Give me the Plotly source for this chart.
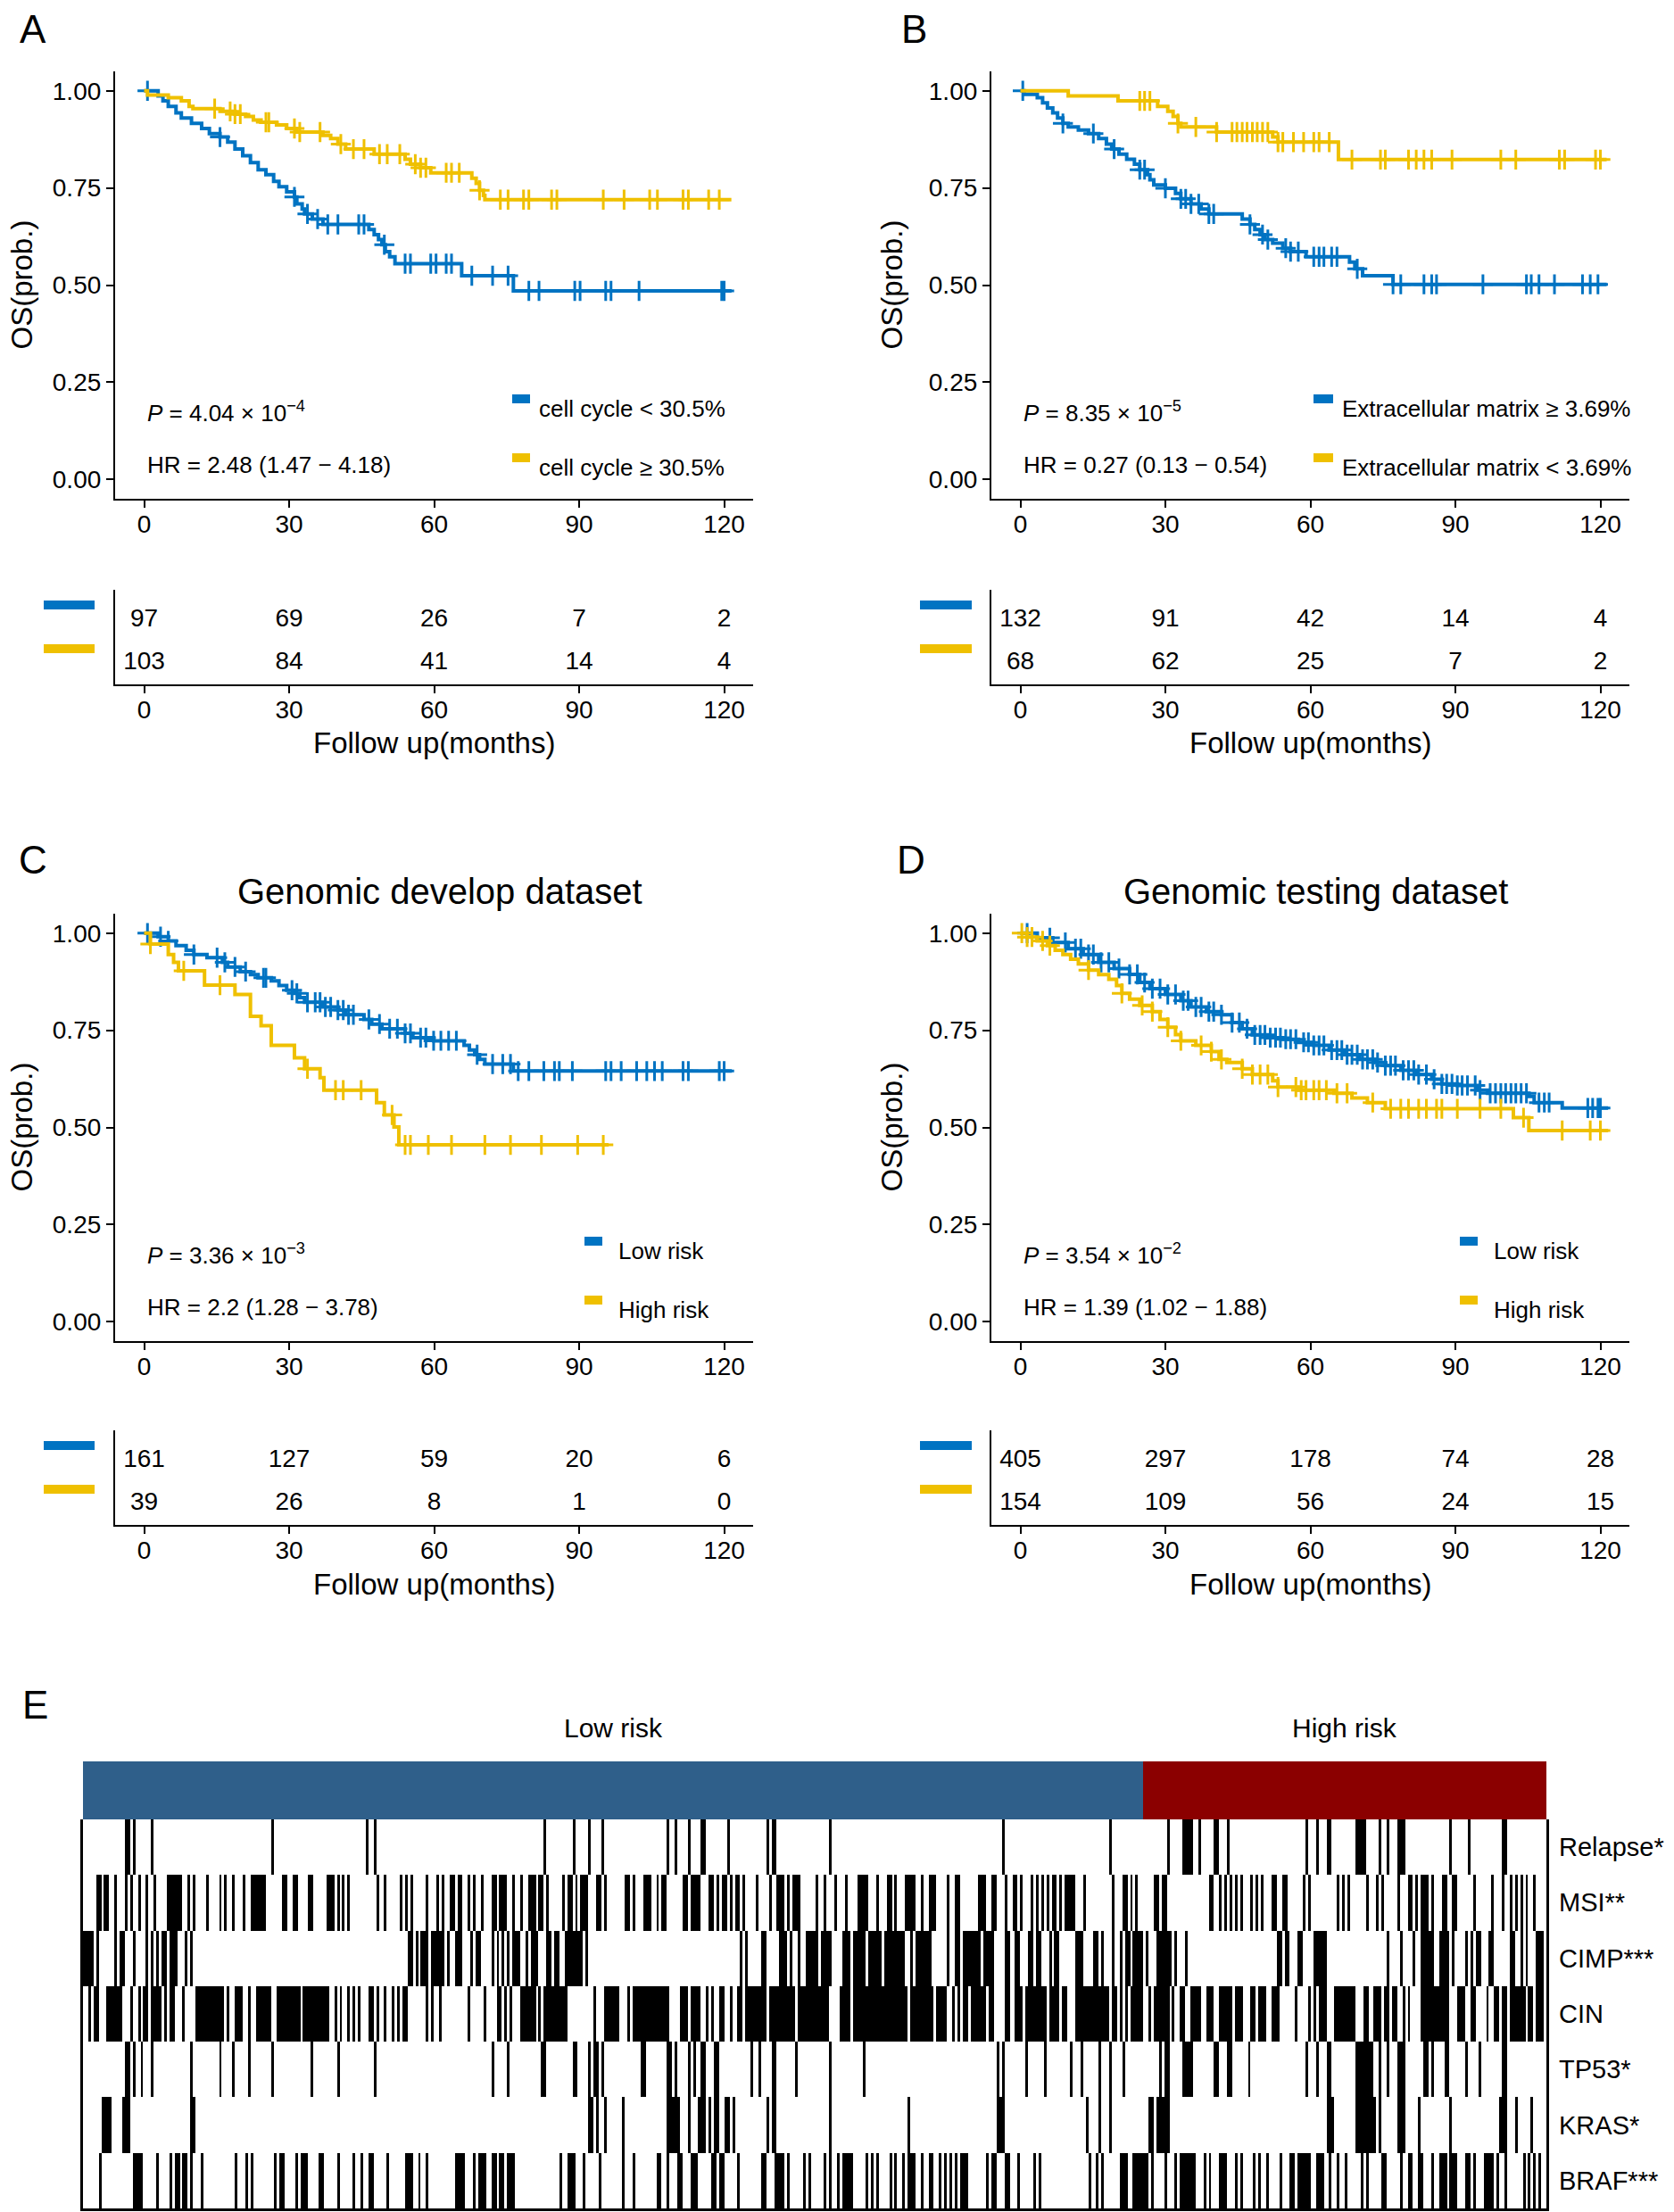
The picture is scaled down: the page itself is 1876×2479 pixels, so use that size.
import bisect
import plotly.graph_objects as go

W, H = 1876, 2479          # reference picture size
OFF = 8                    # page body margin of the browser
WF, HF = W - OFF, H - OFF  # figure size
BLUE = '#0073C2'
YELLOW = '#EFC000'
GROUP_BLUE = '#2F5F8A'
GROUP_RED = '#8B0000'
FONT = 'Liberation Sans, Arial, Helvetica, sans-serif'

TIME_TICKS = [0, 30, 60, 90, 120]
SURV_TICKS = [0, 0.25, 0.5, 0.75, 1.0]
SURV_LABELS = ['0.00', '0.25', '0.50', '0.75', '1.00']

# ---------------- Panel A ----------------
A_blue_t = [2.9, 3.9, 5.0, 6.6, 7.7, 9.8, 11.9, 13.5, 15.7, 17.3, 18.8, 20.4, 22.0, 23.6, 25.2, 26.8, 27.9, 29.5,
            31.1, 31.6, 32.7, 33.2, 34.8, 37.0, 46.5, 47.6, 48.5, 49.2, 49.9, 50.8, 51.9, 65.7, 76.4]
A_blue_s = [0.987, 0.974, 0.960, 0.943, 0.930, 0.916, 0.903, 0.890, 0.881, 0.868, 0.850, 0.833, 0.815, 0.797, 0.784,
            0.767, 0.753, 0.740, 0.727, 0.709, 0.696, 0.683, 0.670, 0.656, 0.643, 0.630, 0.617, 0.604, 0.586, 0.573,
            0.555, 0.524, 0.485]
A_blue_cens = [0.7, 15.7, 31.1, 33.8, 35.9, 38.0, 40.1, 44.4, 45.5, 49.7, 54.0, 55.1, 59.3, 60.4, 62.5, 63.6, 67.8,
               72.1, 75.3, 79.6, 81.7, 89.1, 90.2, 95.5, 96.6, 102.4, 119.5, 120.0]
A_blue_end = 121.5
A_yel_t = [0.7, 5.0, 7.7, 9.3, 10.1, 15.7, 18.8, 21.0, 22.6, 24.2, 27.4, 29.5, 31.6, 37.0, 38.6, 40.1, 41.7, 47.6,
           54.0, 55.1, 57.2, 59.3, 67.8, 68.7, 69.4, 70.2, 70.5]
A_yel_s = [0.989, 0.982, 0.974, 0.960, 0.954, 0.947, 0.940, 0.934, 0.925, 0.919, 0.912, 0.903, 0.894, 0.885, 0.877,
           0.863, 0.850, 0.837, 0.824, 0.811, 0.802, 0.789, 0.775, 0.762, 0.744, 0.731, 0.720]
A_yel_cens = [14.6, 17.8, 18.8, 19.9, 25.2, 25.8, 31.1, 32.2, 36.4, 40.7, 43.3, 45.5, 48.7, 50.3, 52.9, 56.1, 57.2,
              58.3, 62.5, 63.6, 65.2, 69.4, 73.7, 75.3, 78.5, 79.6, 84.3, 85.4, 95.0, 99.3, 104.6, 106.2, 111.5,
              112.6, 116.8, 119.0]
A_yel_end = 121.5
A_risk_blue = [97, 69, 26, 7, 2]
A_risk_yel = [103, 84, 41, 14, 4]
A_legend = ['cell cycle < 30.5%', 'cell cycle \u2265 30.5%']
A_p = '<i>P</i> = 4.04 \u00d7 10<sup>\u22124</sup>'
A_hr = 'HR = 2.48 (1.47 \u2212 4.18)'

# ---------------- Panel B ----------------
B_blue_t = [0.8, 3.5, 4.6, 5.6, 6.7, 7.7, 8.8, 9.9, 12.0, 14.1, 16.2, 17.8, 18.9, 20.4, 22.0, 23.6, 24.7, 26.3, 26.8,
            27.6, 30.0, 32.1, 33.2, 35.3, 37.4, 39.0, 45.9, 47.5, 48.5, 49.6, 50.6, 52.2, 54.3, 55.9, 59.1, 68.1,
            69.2, 70.8, 77.1]
B_blue_s = [0.991, 0.982, 0.969, 0.956, 0.943, 0.930, 0.916, 0.907, 0.899, 0.890, 0.877, 0.863, 0.850, 0.837, 0.824,
            0.811, 0.797, 0.784, 0.771, 0.758, 0.749, 0.736, 0.722, 0.709, 0.696, 0.683, 0.670, 0.656, 0.643, 0.630,
            0.617, 0.608, 0.595, 0.586, 0.573, 0.559, 0.542, 0.524, 0.502]
B_blue_cens = [0.5, 8.8, 15.1, 19.4, 24.7, 25.7, 30.0, 33.2, 34.2, 35.3, 36.9, 39.0, 40.0, 47.5, 50.1, 51.2, 54.9,
               55.9, 57.5, 60.7, 61.8, 62.8, 64.4, 65.5, 69.7, 77.1, 78.7, 83.5, 85.1, 86.1, 95.7, 104.7, 105.7,
               107.3, 110.5, 116.3, 117.9, 119.5]
B_blue_end = 121.3
B_yel_t = [9.9, 20.2, 28.4, 30.5, 31.6, 32.6, 33.2, 40.6, 52.2, 53.3, 65.8]
B_yel_s = [0.987, 0.974, 0.960, 0.947, 0.934, 0.916, 0.907, 0.894, 0.881, 0.868, 0.823]
B_yel_cens = [24.7, 25.7, 26.8, 32.6, 36.3, 40.6, 43.8, 44.8, 45.9, 46.9, 48.0, 49.0, 50.1, 51.2, 53.3, 54.3, 56.5,
              58.6, 60.7, 61.8, 63.9, 68.6, 74.5, 75.5, 80.3, 81.9, 83.5, 85.1, 89.3, 99.4, 102.5, 111.5, 112.6,
              119.0, 120.0]
B_yel_end = 121.3
B_risk_blue = [132, 91, 42, 14, 4]
B_risk_yel = [68, 62, 25, 7, 2]
B_legend = ['Extracellular matrix \u2265 3.69%', 'Extracellular matrix < 3.69%']
B_p = '<i>P</i> = 8.35 \u00d7 10<sup>\u22125</sup>'
B_hr = 'HR = 0.27 (0.13 \u2212 0.54)'

# ---------------- Panel C ----------------
C_blue_t = [2.9, 5.0, 6.6, 8.7, 10.3, 13.0, 16.2, 17.3, 19.9, 22.0, 23.6, 26.3, 27.9, 29.5, 31.1, 32.2, 33.2, 37.0,
            40.1, 41.7, 45.5, 47.1, 49.2, 54.0, 55.6, 59.9, 66.2, 67.3, 68.4, 69.4, 70.5, 76.4]
C_blue_s = [0.991, 0.980, 0.968, 0.956, 0.945, 0.937, 0.925, 0.913, 0.901, 0.893, 0.885, 0.877, 0.865, 0.853, 0.845,
            0.834, 0.822, 0.810, 0.802, 0.790, 0.778, 0.766, 0.754, 0.742, 0.731, 0.723, 0.711, 0.699, 0.687, 0.675,
            0.663, 0.645]
C_blue_cens = [0.7, 3.4, 5.0, 10.3, 15.1, 16.7, 18.8, 21.0, 24.7, 25.2, 30.6, 31.6, 33.8, 35.4, 36.4, 37.5, 38.6,
               40.1, 41.2, 42.3, 43.3, 46.5, 48.7, 50.8, 52.4, 54.0, 55.1, 57.2, 58.3, 59.9, 61.4, 63.0, 64.6, 68.9,
               72.1, 74.2, 75.8, 77.4, 79.6, 82.7, 84.9, 85.9, 88.6, 95.5, 96.6, 98.7, 101.9, 104.0, 105.6, 107.2,
               111.5, 112.6, 119.0, 120.0]
C_blue_end = 121.6
C_yel_t = [1.3, 5.0, 6.1, 7.1, 12.5, 18.8, 22.0, 24.2, 26.3, 31.1, 33.2, 36.4, 37.2, 48.1, 49.7, 51.7, 52.7]
C_yel_s = [0.972, 0.945, 0.925, 0.903, 0.866, 0.842, 0.786, 0.762, 0.711, 0.679, 0.651, 0.628, 0.596, 0.564, 0.532,
           0.501, 0.455]
C_yel_cens = [1.3, 8.2, 15.7, 33.8, 39.6, 41.2, 44.9, 51.3, 54.0, 55.1, 58.8, 63.6, 70.5, 75.8, 82.2, 89.7, 95.0]
C_yel_end = 96.1
C_risk_blue = [161, 127, 59, 20, 6]
C_risk_yel = [39, 26, 8, 1, 0]
C_legend = ['Low risk', 'High risk']
C_p = '<i>P</i> = 3.36 \u00d7 10<sup>\u22123</sup>'
C_hr = 'HR = 2.2 (1.28 \u2212 3.78)'
C_title = 'Genomic develop dataset'

# ---------------- Panel D ----------------
D_blue_t = [3.5, 6.7, 9.9, 13.0, 16.2, 19.4, 22.6, 24.7, 26.8, 30.0, 33.2, 35.3, 38.5, 41.6, 43.8, 45.9, 48.0, 51.2,
            54.3, 57.5, 60.7, 63.9, 67.1, 70.2, 73.4, 75.5, 78.7, 81.9, 85.1, 87.2, 90.4, 94.6, 96.7, 105.2, 106.3,
            112.1]
D_blue_s = [0.988, 0.976, 0.960, 0.945, 0.925, 0.909, 0.894, 0.873, 0.857, 0.842, 0.826, 0.810, 0.798, 0.790, 0.770,
            0.754, 0.738, 0.731, 0.727, 0.719, 0.711, 0.699, 0.687, 0.675, 0.667, 0.659, 0.647, 0.636, 0.624, 0.612,
            0.608, 0.596, 0.588, 0.580, 0.564, 0.550]
D_blue_cens = [1.4, 6.1, 9.3, 11.4, 12.5, 14.1, 15.1, 16.7, 18.3, 20.4, 22.6, 24.2, 25.7, 27.3, 28.9, 30.5, 32.1,
               33.7, 34.7, 36.3, 37.4, 39.0, 40.0, 41.6, 43.8, 45.3, 46.9, 48.5, 49.6, 50.6, 51.7, 52.8, 53.8, 54.9,
               55.9, 57.0, 58.6, 59.6, 60.7, 61.8, 62.8, 64.4, 65.5, 66.5, 67.6, 68.6, 69.7, 70.8, 71.8, 72.9, 73.9,
               75.5, 76.6, 77.6, 79.2, 80.3, 81.4, 82.4, 84.0, 85.6, 87.2, 88.2, 89.3, 90.4, 91.4, 92.5, 94.1, 95.1,
               97.2, 98.3, 99.4, 100.4, 101.5, 102.5, 103.6, 104.7, 107.3, 108.4, 109.4, 117.4, 118.4, 119.5, 120.0]
D_blue_end = 121.6
D_yel_t = [1.4, 3.5, 5.6, 7.2, 8.8, 10.4, 12.0, 14.1, 16.2, 18.3, 19.9, 21.0, 22.6, 24.7, 27.3, 28.9, 30.5, 32.1,
           33.2, 36.3, 39.5, 41.1, 42.7, 45.9, 48.0, 52.2, 53.3, 57.5, 64.9, 68.6, 71.8, 75.5, 102.0, 105.2]
D_yel_s = [0.990, 0.980, 0.968, 0.956, 0.945, 0.933, 0.921, 0.905, 0.893, 0.881, 0.865, 0.845, 0.830, 0.814, 0.798,
           0.778, 0.758, 0.739, 0.723, 0.711, 0.695, 0.675, 0.667, 0.651, 0.636, 0.620, 0.604, 0.596, 0.588, 0.576,
           0.564, 0.548, 0.525, 0.492]
D_yel_cens = [0.3, 1.4, 2.4, 4.6, 6.1, 14.1, 21.0, 25.2, 27.3, 30.5, 33.2, 37.4, 39.5, 41.6, 45.9, 48.0, 49.6, 51.2,
              53.3, 57.0, 58.1, 59.1, 60.7, 61.8, 63.3, 65.5, 67.6, 72.9, 76.6, 78.7, 80.3, 82.4, 84.0, 86.1, 87.2,
              90.4, 95.1, 99.4, 104.1, 112.1, 117.9, 120.0]
D_yel_end = 121.6
D_risk_blue = [405, 297, 178, 74, 28]
D_risk_yel = [154, 109, 56, 24, 15]
D_legend = ['Low risk', 'High risk']
D_p = '<i>P</i> = 3.54 \u00d7 10<sup>\u22122</sup>'
D_hr = 'HR = 1.39 (1.02 \u2212 1.88)'
D_title = 'Genomic testing dataset'

# ---------------- Panel E (binary heatmap, column index ranges of black cells) ----------------
N_LOW = 405
N_HIGH = 154
E_groups = ['Low risk', 'High risk']
E_rows = ['Relapse*', 'MSI**', 'CIMP***', 'CIN', 'TP53*', 'KRAS*', 'BRAF***']
RELAPSE = [[16, 17], [19, 19], [26, 26], [72, 72], [108, 108], [111, 111], [176, 176], [187, 187], [193, 193],
           [198, 198], [223, 223], [226, 226], [231, 231], [236, 237], [246, 246], [261, 261], [263, 264], [285, 285],
           [351, 351], [392, 392], [414, 414], [420, 423], [426, 426], [432, 433], [437, 437], [467, 467], [471, 471],
           [475, 476], [486, 489], [495, 495], [498, 498], [502, 504], [522, 522], [529, 529], [542, 543]]
MSI = [[5, 6], [8, 9], [12, 12], [16, 16], [18, 18], [21, 21], [24, 24], [27, 27], [32, 37], [40, 40], [42, 42],
       [47, 47], [52, 52], [54, 54], [57, 57], [61, 61], [64, 69], [76, 77], [80, 81], [86, 87], [93, 95], [97, 97],
       [99, 99], [101, 101], [112, 112], [115, 115], [121, 121], [123, 123], [125, 125], [131, 131], [135, 135],
       [137, 137], [140, 141], [143, 144], [147, 147], [149, 149], [152, 152], [156, 157], [159, 161], [164, 164],
       [167, 167], [170, 172], [174, 175], [177, 177], [183, 183], [185, 186], [188, 188], [190, 192], [196, 197],
       [199, 199], [207, 208], [210, 210], [214, 216], [219, 219], [221, 222], [229, 230], [232, 235], [239, 240],
       [242, 242], [244, 245], [247, 247], [249, 250], [252, 252], [257, 257], [262, 262], [265, 267], [269, 269],
       [271, 273], [280, 280], [283, 283], [287, 287], [291, 291], [296, 299], [303, 303], [307, 308], [310, 310],
       [314, 317], [320, 320], [323, 325], [330, 330], [333, 334], [342, 344], [347, 348], [352, 352], [355, 356],
       [358, 358], [362, 362], [364, 364], [366, 366], [368, 368], [370, 371], [373, 373], [375, 378], [382, 382],
       [393, 393], [397, 398], [400, 400], [402, 402], [409, 410], [412, 413], [430, 431], [434, 434], [436, 436],
       [438, 438], [440, 440], [442, 442], [446, 446], [448, 448], [450, 450], [454, 455], [458, 459], [466, 466],
       [468, 468], [479, 479], [481, 481], [483, 483], [490, 490], [494, 494], [496, 496], [502, 502], [506, 507],
       [509, 509], [511, 513], [515, 515], [519, 520], [523, 524], [531, 531], [538, 538], [542, 542], [545, 545],
       [547, 547], [549, 549], [551, 551], [554, 554]]
CIMP = [[0, 3], [5, 5], [12, 12], [14, 15], [19, 19], [24, 24], [26, 26], [28, 28], [30, 31], [33, 35], [39, 39],
        [41, 41], [124, 125], [127, 127], [129, 131], [133, 137], [139, 139], [142, 144], [148, 148], [150, 151],
        [156, 156], [158, 158], [160, 160], [162, 162], [164, 166], [169, 169], [171, 173], [177, 178], [180, 181],
        [184, 190], [192, 192], [251, 251], [253, 253], [259, 260], [266, 268], [270, 270], [273, 273], [276, 280],
        [282, 285], [290, 292], [294, 298], [300, 304], [306, 313], [316, 316], [318, 323], [330, 330], [333, 334],
        [336, 342], [344, 347], [352, 353], [356, 357], [361, 362], [364, 365], [369, 369], [371, 372], [379, 381],
        [386, 387], [389, 389], [393, 393], [396, 396], [398, 399], [401, 404], [406, 406], [410, 415], [417, 417],
        [421, 421], [456, 457], [459, 460], [464, 465], [470, 474], [498, 498], [503, 503], [508, 508], [511, 515],
        [518, 521], [523, 523], [528, 528], [530, 530], [532, 533], [537, 538], [545, 546], [549, 549], [551, 551],
        [555, 557]]
CIN = [[2, 2], [4, 5], [9, 14], [18, 18], [21, 21], [23, 24], [26, 29], [31, 31], [33, 34], [38, 38], [43, 53],
       [55, 55], [58, 60], [63, 63], [66, 71], [74, 82], [84, 93], [96, 96], [98, 98], [101, 101], [103, 103],
       [105, 105], [109, 110], [112, 112], [115, 115], [118, 118], [120, 120], [122, 123], [131, 131], [133, 133],
       [136, 136], [147, 147], [153, 153], [158, 159], [161, 161], [163, 163], [167, 172], [174, 174], [176, 184],
       [195, 195], [199, 204], [208, 208], [210, 223], [228, 230], [232, 235], [238, 238], [240, 240], [243, 244],
       [247, 247], [250, 251], [253, 260], [262, 271], [273, 284], [289, 292], [294, 314], [316, 324], [326, 329],
       [332, 332], [334, 334], [336, 337], [339, 344], [346, 347], [352, 353], [356, 358], [360, 367], [369, 372],
       [374, 375], [379, 391], [393, 394], [396, 396], [398, 398], [400, 404], [407, 407], [409, 414], [416, 416],
       [419, 420], [423, 426], [429, 431], [434, 438], [440, 442], [446, 447], [449, 451], [454, 456], [463, 463],
       [468, 468], [470, 470], [472, 474], [478, 485], [489, 490], [493, 495], [497, 498], [500, 501], [504, 504],
       [506, 506], [511, 521], [525, 527], [530, 531], [536, 536], [539, 540], [542, 543], [545, 550], [552, 553],
       [555, 557]]
TP53 = [[16, 17], [19, 19], [22, 22], [26, 26], [41, 41], [52, 52], [57, 57], [63, 63], [72, 72], [87, 87], [97, 97],
        [111, 111], [156, 156], [162, 162], [175, 176], [187, 188], [193, 193], [195, 196], [198, 198], [213, 214],
        [223, 224], [226, 226], [231, 231], [233, 233], [236, 237], [241, 242], [255, 255], [258, 258], [263, 264],
        [272, 272], [285, 285], [298, 298], [349, 349], [351, 351], [360, 360], [367, 367], [377, 377], [381, 381],
        [388, 388], [392, 392], [397, 397], [411, 411], [413, 414], [420, 423], [432, 433], [437, 438], [445, 445],
        [467, 467], [471, 471], [475, 476], [486, 492], [495, 495], [498, 498], [502, 504], [512, 513], [515, 515],
        [520, 521], [528, 528], [533, 533], [542, 543]]
KRAS = [[7, 10], [15, 17], [41, 42], [193, 194], [196, 196], [199, 199], [206, 206], [223, 227], [231, 231],
        [235, 237], [239, 239], [241, 242], [245, 246], [248, 248], [261, 261], [263, 264], [285, 285], [315, 315],
        [349, 351], [383, 383], [388, 388], [392, 392], [407, 408], [410, 414], [475, 477], [486, 493], [495, 495],
        [502, 504], [510, 510], [522, 522], [541, 543], [547, 547], [553, 553]]
BRAF = [[6, 6], [19, 22], [28, 28], [33, 33], [35, 36], [38, 39], [41, 41], [45, 45], [58, 58], [62, 62], [64, 64],
        [73, 73], [75, 76], [81, 81], [83, 85], [90, 91], [97, 97], [103, 103], [106, 106], [109, 110], [116, 116],
        [123, 125], [128, 128], [131, 131], [142, 145], [149, 149], [151, 153], [156, 157], [159, 160], [162, 164],
        [182, 182], [185, 187], [191, 191], [197, 197], [206, 206], [210, 210], [219, 220], [223, 223], [227, 228],
        [232, 234], [240, 241], [243, 244], [250, 250], [259, 260], [264, 267], [269, 269], [275, 275], [277, 277],
        [283, 283], [285, 285], [288, 288], [290, 293], [299, 299], [301, 301], [303, 303], [308, 308], [310, 310],
        [313, 313], [315, 317], [320, 320], [323, 324], [327, 327], [329, 329], [331, 331], [333, 333], [335, 337],
        [345, 345], [347, 348], [352, 353], [357, 357], [363, 363], [365, 365], [384, 384], [387, 387], [389, 389],
        [396, 398], [401, 406], [408, 408], [413, 413], [417, 417], [419, 424], [428, 428], [430, 430], [434, 436],
        [440, 440], [442, 442], [447, 447], [449, 449], [452, 452], [457, 457], [461, 462], [464, 468], [471, 473],
        [476, 476], [479, 479], [482, 482], [488, 488], [490, 490], [496, 497], [503, 503], [506, 507], [510, 511],
        [515, 515], [518, 520], [522, 524], [528, 529], [531, 531], [535, 538], [540, 540], [543, 543], [550, 550],
        [552, 552], [554, 554], [556, 556]]
E_data = [RELAPSE, MSI, CIMP, CIN, TP53, KRAS, BRAF]


# ---------------- helpers (reference pixel -> paper fraction) ----------------
def fx(x):
    return (x - OFF) / WF


def fy(y):
    return 1 - (y - OFF) / HF


def surv_at(t_list, s_list, t):
    i = bisect.bisect_right(t_list, t)
    return 1.0 if i == 0 else s_list[i - 1]


fig = go.Figure()
layout = {}
annotations = []
shapes = []

axis_font = dict(family=FONT, size=28, color='black')
base_axis = dict(showline=True, linecolor='black', linewidth=2.2, showgrid=False, zeroline=False,
                 ticks='outside', ticklen=8, tickwidth=2, tickcolor='black', tickfont=axis_font)

panels = [
    dict(letter='A', letter_xy=(37, 32), km=1, tab=5, xpx=(129, 844), kmy=(80, 559), taby=(661, 767),
         blue=(A_blue_t, A_blue_s, A_blue_cens, A_blue_end), yel=(A_yel_t, A_yel_s, A_yel_cens, A_yel_end),
         risk=(A_risk_blue, A_risk_yel), legend=A_legend, p=A_p, hr=A_hr, title=None,
         leg_key_x=(574, 594), leg_text_x=602, ytitle_x=24, riskbar_x=(49, 106)),
    dict(letter='B', letter_xy=(1024, 32), km=2, tab=6, xpx=(1111, 1826), kmy=(80, 559), taby=(661, 767),
         blue=(B_blue_t, B_blue_s, B_blue_cens, B_blue_end), yel=(B_yel_t, B_yel_s, B_yel_cens, B_yel_end),
         risk=(B_risk_blue, B_risk_yel), legend=B_legend, p=B_p, hr=B_hr, title=None,
         leg_key_x=(1472, 1494), leg_text_x=1502, ytitle_x=999, riskbar_x=(1031, 1089)),
    dict(letter='C', letter_xy=(37, 963), km=3, tab=7, xpx=(129, 844), kmy=(1024, 1503), taby=(1603, 1709),
         blue=(C_blue_t, C_blue_s, C_blue_cens, C_blue_end), yel=(C_yel_t, C_yel_s, C_yel_cens, C_yel_end),
         risk=(C_risk_blue, C_risk_yel), legend=C_legend, p=C_p, hr=C_hr, title=C_title,
         leg_key_x=(655, 675), leg_text_x=691, ytitle_x=24, riskbar_x=(49, 106)),
    dict(letter='D', letter_xy=(1021, 963), km=4, tab=8, xpx=(1111, 1826), kmy=(1024, 1503), taby=(1603, 1709),
         blue=(D_blue_t, D_blue_s, D_blue_cens, D_blue_end), yel=(D_yel_t, D_yel_s, D_yel_cens, D_yel_end),
         risk=(D_risk_blue, D_risk_yel), legend=D_legend, p=D_p, hr=D_hr, title=D_title,
         leg_key_x=(1636, 1656), leg_text_x=1672, ytitle_x=999, riskbar_x=(1031, 1089)),
]

for P in panels:
    k, tb = P['km'], P['tab']
    x0, x1 = P['xpx']
    ky0, ky1 = P['kmy']
    ty0, ty1 = P['taby']
    xa, ya = 'x%d' % k, 'y%d' % k
    xt, yt = 'x%d' % tb, 'y%d' % tb

    layout['xaxis%d' % k] = dict(base_axis, domain=[fx(x0), fx(x1)], range=[-6, 126], anchor=ya,
                                 tickvals=TIME_TICKS, ticklabelstandoff=-6)
    layout['yaxis%d' % k] = dict(base_axis, domain=[fy(ky1), fy(ky0)], range=[-0.05, 1.05], anchor=xa,
                                 tickvals=SURV_TICKS, ticktext=SURV_LABELS)
    layout['xaxis%d' % tb] = dict(base_axis, domain=[fx(x0), fx(x1)], range=[-6, 126], anchor=yt,
                                  tickvals=TIME_TICKS, ticklabelstandoff=-6)
    layout['yaxis%d' % tb] = dict(showline=True, linecolor='black', linewidth=2.2, showgrid=False,
                                  zeroline=False, ticks='', showticklabels=False,
                                  domain=[fy(ty1), fy(ty0)], range=[0.5, 2.7], anchor=xt)

    for (t, s, cens, end), color in ((P['blue'], BLUE), (P['yel'], YELLOW)):
        fig.add_trace(go.Scatter(x=[0] + t + [end], y=[1.0] + s + [s[-1]], mode='lines',
                                 line=dict(color=color, width=4, shape='hv'),
                                 xaxis=xa, yaxis=ya, showlegend=False, hoverinfo='skip'))
        fig.add_trace(go.Scatter(x=cens, y=[surv_at(t, s, c) for c in cens], mode='markers',
                                 marker=dict(symbol='cross-thin', size=16, color=color,
                                             line=dict(color=color, width=3)),
                                 xaxis=xa, yaxis=ya, showlegend=False, hoverinfo='skip'))

    rb, ry = P['risk']
    for vals, row in ((rb, 2), (ry, 1)):
        fig.add_trace(go.Scatter(x=TIME_TICKS, y=[row] * len(vals), mode='text',
                                 text=[str(v) for v in vals], textfont=axis_font,
                                 xaxis=xt, yaxis=yt, showlegend=False, hoverinfo='skip', cliponaxis=False))

    # panel letter
    annotations.append(dict(text=P['letter'], x=fx(P['letter_xy'][0]), y=fy(P['letter_xy'][1]),
                            xref='paper', yref='paper', showarrow=False, xanchor='center', yanchor='middle',
                            font=dict(family=FONT, size=44, color='black')))
    # y title
    annotations.append(dict(text='OS(prob.)', x=fx(P['ytitle_x']), y=fy((ky0 + ky1) / 2), xref='paper',
                            yref='paper', showarrow=False, textangle=-90, xanchor='center', yanchor='middle',
                            font=dict(family=FONT, size=33, color='black')))
    # x title under risk table
    annotations.append(dict(text='Follow up(months)', x=60, xref=xt, y=fy(ty1 + 66), yref='paper',
                            showarrow=False, xanchor='center', yanchor='middle',
                            font=dict(family=FONT, size=33, color='black')))
    # P value and HR
    annotations.append(dict(text=P['p'], x=fx(x0 + 34), y=fy(ky0 + 381), xref='paper', yref='paper',
                            showarrow=False, xanchor='left', yanchor='middle',
                            font=dict(family=FONT, size=26, color='black')))
    annotations.append(dict(text=P['hr'], x=fx(x0 + 34), y=fy(ky0 + 441), xref='paper', yref='paper',
                            showarrow=False, xanchor='left', yanchor='middle',
                            font=dict(family=FONT, size=26, color='black')))
    # legend
    kx0, kx1 = P['leg_key_x']
    for i, (lab, color) in enumerate(zip(P['legend'], (BLUE, YELLOW))):
        key_y = ky0 + 367 + i * 66
        shapes.append(dict(type='rect', xref='paper', yref='paper', x0=fx(kx0), x1=fx(kx1),
                           y0=fy(key_y + 5), y1=fy(key_y - 5), fillcolor=color, line=dict(width=0)))
        annotations.append(dict(text=lab, x=fx(P['leg_text_x']), y=fy(key_y + 11), xref='paper', yref='paper',
                                showarrow=False, xanchor='left', yanchor='middle',
                                font=dict(family=FONT, size=26, color='black')))
    # risk table colour keys
    bx0, bx1 = P['riskbar_x']
    for i, color in enumerate((BLUE, YELLOW)):
        cy = ty0 + 17 + i * 49
        shapes.append(dict(type='rect', xref='paper', yref='paper', x0=fx(bx0), x1=fx(bx1),
                           y0=fy(cy + 5), y1=fy(cy - 5), fillcolor=color, line=dict(width=0)))
    if P['title']:
        annotations.append(dict(text=P['title'], x=fx((x0 + x1) / 2 + 6), y=fy(ky0 - 25), xref='paper',
                                yref='paper', showarrow=False, xanchor='center', yanchor='middle',
                                font=dict(family=FONT, size=40, color='black')))

# ---------------- Panel E ----------------
N = N_LOW + N_HIGH
Z = []
for ranges in E_data:
    row = [0] * N
    for a, b in ranges:
        for i in range(a, b + 1):
            row[i] = 1
    Z.append(row)
group = [0] * N_LOW + [1] * N_HIGH
cols = list(range(N))

hx0, hx1 = 93, 1733
layout['xaxis9'] = dict(domain=[fx(hx0), fx(hx1)], range=[-0.5, N - 0.5], anchor='y9', visible=False)
layout['yaxis9'] = dict(domain=[fy(2039), fy(1974)], range=[-0.5, 0.5], anchor='x9', visible=False)
layout['xaxis10'] = dict(domain=[fx(hx0), fx(hx1)], range=[-0.5, N - 0.5], anchor='y10', showline=True,
                         linecolor='black', linewidth=3, showticklabels=False, ticks='', showgrid=False,
                         zeroline=False)
layout['yaxis10'] = dict(domain=[fy(2475), fy(2039)], range=[len(E_rows) - 0.5, -0.5], anchor='x10',
                         showline=True, mirror=True, linecolor='black', linewidth=2.5, showticklabels=False,
                         ticks='', showgrid=False, zeroline=False)

fig.add_trace(go.Heatmap(z=[group], x=cols, y=[0], colorscale=[[0, GROUP_BLUE], [1, GROUP_RED]], zmin=0, zmax=1,
                         showscale=False, xaxis='x9', yaxis='y9', hoverinfo='skip'))
fig.add_trace(go.Heatmap(z=Z, x=cols, y=list(range(len(E_rows))), colorscale=[[0, 'white'], [1, 'black']],
                         zmin=0, zmax=1, showscale=False, xaxis='x10', yaxis='y10', hoverinfo='skip'))

for i, lab in enumerate(E_rows):
    annotations.append(dict(text=lab, x=fx(1745), xref='paper', y=i, yref='y10', showarrow=False,
                            xanchor='left', yanchor='middle', font=dict(family=FONT, size=29, color='black')))
for lab, center in zip(E_groups, ((N_LOW - 1) / 2, N_LOW + (N_HIGH - 1) / 2)):
    annotations.append(dict(text=lab, x=center, xref='x9', y=fy(1936), yref='paper', showarrow=False,
                            xanchor='center', yanchor='middle', font=dict(family=FONT, size=30, color='black')))
annotations.append(dict(text='E', x=fx(39), y=fy(1910), xref='paper', yref='paper', showarrow=False,
                        xanchor='center', yanchor='middle', font=dict(family=FONT, size=44, color='black')))

fig.update_layout(width=WF, height=HF, margin=dict(l=0, r=0, t=0, b=0), paper_bgcolor='white',
                  plot_bgcolor='white', showlegend=False, annotations=annotations, shapes=shapes,
                  font=dict(family=FONT, color='black'), **layout)

fig.write_html('out.html')
